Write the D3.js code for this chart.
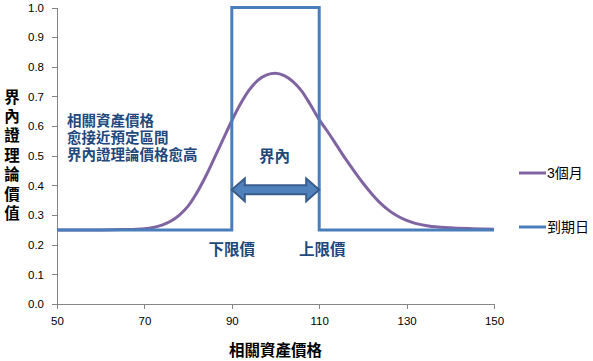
<!DOCTYPE html>
<html><head><meta charset="utf-8">
<script src="https://cdn.jsdelivr.net/npm/d3@7"></script>
<style>
body{margin:0;background:#fff;}
svg{display:block;}
</style></head>
<body><svg id="c" width="593" height="361"></svg>
<script>
// ---- data ----
const xTicks = [50, 70, 90, 110, 130, 150];
const yTicks = [0, 0.1, 0.2, 0.3, 0.4, 0.5, 0.6, 0.7, 0.8, 0.9, 1.0];
const seriesNames = ["3個月", "到期日"];
const priceThreeMonth = [50,55,60,65,70,72,74,76,78,80,82,84,86,88,90,92,94,96,98,100,102,104,106,108,110,112,114,116,118,120,122,124,126,128,130,132,135,140,145,150];
const valueThreeMonth = [0.250,0.250,0.250,0.251,0.254,0.258,0.266,0.279,0.300,0.330,0.375,0.430,0.492,0.555,0.618,0.675,0.722,0.755,0.773,0.778,0.770,0.750,0.718,0.672,0.622,0.580,0.535,0.490,0.448,0.408,0.372,0.340,0.315,0.296,0.282,0.272,0.263,0.257,0.254,0.252];
const priceExpiry = [50, 90, 90, 110, 110, 150];
const valueExpiry = [0.25, 0.25, 1.0, 1.0, 0.25, 0.25];
const lowerBarrier = 90, upperBarrier = 110, arrowLevel = 0.385;
const noteLines = ["相關資產價格", "愈接近預定區間", "界內證理論價格愈高"];
const yTitle = "界內證理論價值";
const xTitle = "相關資產價格";
const labelInside = "界內", labelLower = "下限價", labelUpper = "上限價";

// ---- drawing ----
const svg = d3.select("#c");
const x = d3.scaleLinear().domain([50, 150]).range([57, 494]);
const y = d3.scaleLinear().domain([0, 1]).range([304, 7.5]);
const axisColor = "#868686";
const tickFont = "'Liberation Sans', Arial, sans-serif";
const cjk = "'Liberation Sans', 'Noto Sans CJK TC', 'Noto Sans CJK SC', sans-serif";
const noteColor = "#1F497D";
const purple = "#8064A2", blue = "#4A7EBB";

const xAxis = svg.append("g").attr("transform", `translate(0,${y(0)})`)
  .call(d3.axisBottom(x).tickValues(xTicks).tickSize(5).tickSizeOuter(0).tickPadding(6).tickFormat(d3.format("d")));
const yAxis = svg.append("g").attr("transform", `translate(${x(50)},0)`)
  .call(d3.axisLeft(y).tickValues(yTicks).tickSize(5).tickSizeOuter(0).tickPadding(8).tickFormat(d3.format(".1f")));
[xAxis, yAxis].forEach(a => {
  a.selectAll("path,line").attr("stroke", axisColor).attr("shape-rendering", "crispEdges");
  a.selectAll("text").attr("fill", "#000").style("font-family", tickFont).style("font-size", "11.5px");
});
xAxis.selectAll("text").attr("dy", "0.9em");

const line = d3.line().x(d => x(d[0])).y(d => y(d[1]));
svg.append("path").datum(d3.zip(priceThreeMonth, valueThreeMonth))
  .attr("d", line.curve(d3.curveMonotoneX)).attr("fill", "none")
  .attr("stroke", purple).attr("stroke-width", 3);
svg.append("path").datum(d3.zip(priceExpiry, valueExpiry))
  .attr("d", d3.line().x(d => x(d[0])).y(d => y(d[1]))).attr("fill", "none")
  .attr("stroke", blue).attr("stroke-width", 3).attr("stroke-linejoin", "miter");

// double arrow
const ax0 = x(lowerBarrier), ax1 = x(upperBarrier), ay = y(arrowLevel);
const hl = 13, hh = 11.5, sh = 4.5;
const arrowPath = `M${ax0},${ay} L${ax0+hl},${ay-hh} L${ax0+hl},${ay-sh} L${ax1-hl},${ay-sh} L${ax1-hl},${ay-hh} L${ax1},${ay} L${ax1-hl},${ay+hh} L${ax1-hl},${ay+sh} L${ax0+hl},${ay+sh} L${ax0+hl},${ay+hh} Z`;
svg.append("path").attr("d", arrowPath).attr("fill", "#4F81BD").attr("stroke", "#385D8A").attr("stroke-width", 2).attr("stroke-linejoin", "miter");

// annotations
noteLines.forEach((t, i) => svg.append("text").attr("fill", noteColor).style("font-family", cjk)
  .style("font-weight", "bold").style("font-size", "14.5px")
  .attr("x", 67).attr("y", 121 + i * 17).attr("dominant-baseline", "central").text(t));
svg.append("text").attr("x", (ax0 + ax1) / 2 - 1).attr("y", 156).attr("text-anchor", "middle").attr("dominant-baseline", "central")
  .attr("fill", noteColor).style("font-family", cjk).style("font-weight", "bold").style("font-size", "15.5px").text(labelInside);
svg.append("text").attr("x", x(lowerBarrier)).attr("y", 249).attr("text-anchor", "middle").attr("dominant-baseline", "central")
  .attr("fill", noteColor).style("font-family", cjk).style("font-weight", "bold").style("font-size", "15.5px").text(labelLower);
svg.append("text").attr("x", x(upperBarrier) + 3).attr("y", 249).attr("text-anchor", "middle").attr("dominant-baseline", "central")
  .attr("fill", noteColor).style("font-family", cjk).style("font-weight", "bold").style("font-size", "15.5px").text(labelUpper);

// axis titles
svg.append("text").attr("x", (x(50) + x(150)) / 2).attr("y", 350).attr("text-anchor", "middle").attr("dominant-baseline", "central")
  .style("font-family", cjk).style("font-weight", "bold").style("font-size", "15.5px").attr("fill", "#000").text(xTitle);
svg.append("text").attr("x", 10.5).attr("y", 89)
  .style("writing-mode", "vertical-rl").style("text-orientation", "upright").style("letter-spacing", "3.9px")
  .style("font-family", cjk).style("font-weight", "bold").style("font-size", "15.5px").attr("fill", "#000").text(yTitle);

// legend
const legendColors = [purple, blue];
const legendY = [173, 227];
seriesNames.forEach((n, i) => {
  svg.append("line").attr("x1", 519).attr("x2", 546).attr("y1", legendY[i]).attr("y2", legendY[i])
    .attr("stroke", legendColors[i]).attr("stroke-width", 3);
  svg.append("text").attr("x", 547).attr("y", legendY[i]).attr("dominant-baseline", "central")
    .style("font-family", cjk).style("font-size", "14px").attr("fill", "#000").text(n);
});
</script></body></html>
